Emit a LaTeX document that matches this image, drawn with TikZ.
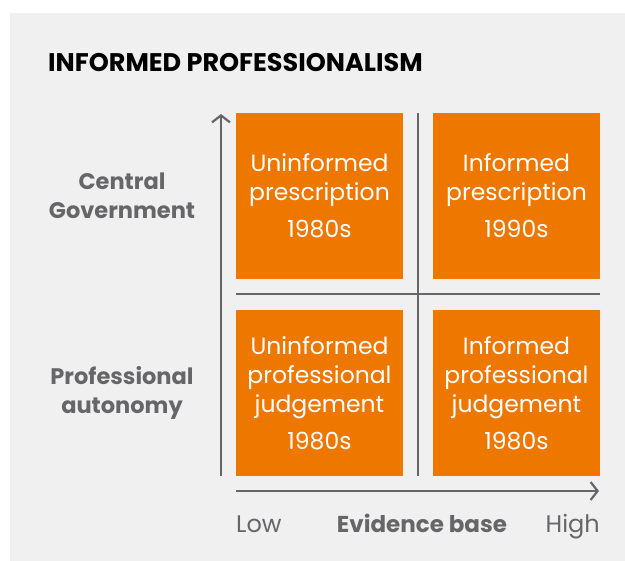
\documentclass[tikz,border=0pt]{standalone}
\usepackage{fontspec}
\setmainfont{Poppins}
\usetikzlibrary{arrows.meta,positioning}
\definecolor{bggrey}{HTML}{F0F0F0}
\definecolor{axisgrey}{HTML}{666669}
\definecolor{quadorange}{HTML}{EE7700}
\tikzset{
    quadbox/.style={fill=quadorange, minimum width=167pt, minimum height=166pt, inner sep=0pt,
        text=white, align=center, font=\fontsize{23.5}{29}\selectfont},
    sidelabel/.style={text=axisgrey, align=center, font=\bfseries\fontsize{22.5}{29}\selectfont},
    axislabel/.style={text=axisgrey, inner sep=0pt, font=\fontsize{24}{29}\selectfont},
    axisline/.style={draw=axisgrey, line width=2.2pt},
    axisarrow/.style={axisline, -{Straight Barb[length=7pt,width=18pt,line width=2.2pt]}}
}
\begin{document}
\begin{tikzpicture}[x=1pt,y=-1pt]
    % Canvas and grey panel
    \useasboundingbox (0,0) rectangle (625,561);
    \fill[bggrey] (10,13) rectangle (625,561);

    % Title
    \node[anchor=west, inner sep=0pt, font=\bfseries\fontsize{25.5}{30}\selectfont] (title) at (48,63) {INFORMED PROFESSIONALISM};

    % The four quadrants
    \node[quadbox] (uprescription) at (319.5,196) {Uninformed\\prescription\\[8pt]1980s};
    \node[quadbox] (iprescription) at (516.5,196) {Informed\\prescription\\[8pt]1990s};
    \node[quadbox] (ujudgement) at (319.5,393) {Uninformed\\professional\\judgement\\[8pt]1980s};
    \node[quadbox] (ijudgement) at (516.5,393) {Informed\\professional\\judgement\\[8pt]1980s};

    % Dividers between the quadrants
    \coordinate (vtop) at (418,113);
    \coordinate (vbottom) at (418,476);
    \coordinate (hleft) at (236,294);
    \coordinate (hright) at (600,294);
    \draw[axisline] (vtop) -- (vbottom);
    \draw[axisline] (hleft) -- (hright);

    % Axes
    \coordinate (yorigin) at (221,476);
    \coordinate (ytip) at (221,114);
    \coordinate (xorigin) at (236,491);
    \coordinate (xtip) at (599,491);
    \draw[axisarrow] (yorigin) -- (ytip);
    \draw[axisarrow] (xorigin) -- (xtip);

    % Axis labels
    \node[sidelabel] (central) at (122,196) {Central\\Government};
    \node[sidelabel] (autonomy) at (122,393) {Professional\\autonomy};
    \node[axislabel, anchor=base west] (low) at (236,533) {Low};
    \node[axislabel, anchor=base, font=\bfseries\fontsize{23}{29}\selectfont] (evidence) at (422,533) {Evidence base};
    \node[axislabel, anchor=base east] (high) at (600,533) {High};
\end{tikzpicture}
\end{document}
